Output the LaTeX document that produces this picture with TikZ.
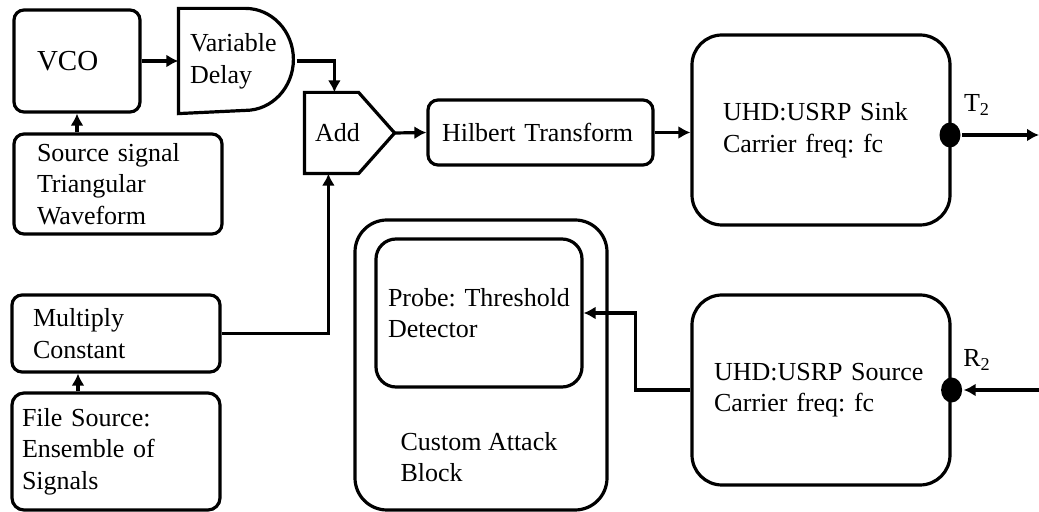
\documentclass[tikz,border=0pt]{standalone}
\usepackage{fontspec}
\setmainfont{Liberation Serif}
\usetikzlibrary{arrows.meta,calc,positioning,shapes.geometric}
\frenchspacing

\begin{document}
\begin{tikzpicture}[x=0.5pt,y=-0.5pt,>={Latex[length=6pt,width=6.5pt]},line width=1.6pt,
		font=\fontsize{13pt}{15.8pt}\selectfont,
		blk/.style={draw,rounded corners=#1,align=left,inner ysep=0pt},
		blk/.default=5pt,
		txt/.style={align=left,inner ysep=0pt},
		dot/.style={ellipse,fill,inner sep=0pt,minimum width=10.5pt,minimum height=12.5pt}]
			\useasboundingbox (0,0) rectangle (1039,512);
			% transmit chain
			\node[blk,minimum height=51pt,text width=40pt,inner xsep=11.5pt,font=\fontsize{14.5pt}{17pt}\selectfont] (vco) at (77,61) {\raisebox{-3pt}{VCO}};
			\node[txt,minimum height=51pt,text width=47.5pt,inner xsep=5pt] (dly) at (237.5,61) {Variable\\Delay};
			\draw (dly.north west) -- ++(33.5pt,0) arc[start angle=90,end angle=-90,x radius=24pt,y radius=25.5pt] -- (dly.south west) -- cycle;
			\node[blk,minimum height=50pt,text width=81pt,inner xsep=11.5pt] (sig) at (118,184) {Source signal\\Triangular\\Waveform};
			\node[txt,minimum height=39pt,text width=34.5pt,inner xsep=4.5pt] (add) at (349.5,133) {Add};
			\draw (add.north west) -- ([xshift=-18pt]add.north east) -- (add.east) -- ([xshift=-18pt]add.south east) -- (add.south west) -- cycle;
			\node[blk,minimum height=32.5pt,text width=98.5pt,inner xsep=7pt] (hil) at (540.5,132.5) {Hilbert Transform};
			\node[blk=15pt,minimum height=95pt,text width=98pt,inner xsep=15.5pt] (sink) at (821,130) {UHD:USRP Sink\\Carrier freq: fc};
			\node[dot] (tx) at (950,135) {};
			\node (t2) at (977,105) {T\textsubscript{2}};
			\coordinate (txend) at (1039,135);
			% receive chain
			\node[blk=15pt,minimum height=95pt,text width=107pt,inner xsep=11pt] (usrc) at (821,390) {UHD:USRP Source\\Carrier freq: fc};
			\node[dot] (rx) at (usrc.east) {};
			\node (r2) at (977,360) {R\textsubscript{2}};
			\coordinate (rxend) at (1039,390);
			\node[blk=16pt,minimum width=126pt,minimum height=145pt] (atk) at (481,365) {};
			\node[blk=10pt,minimum height=74pt,text width=91pt,inner xsep=6pt] (prb) at (479,313) {Probe: Threshold\\Detector};
			\node[txt,anchor=west,inner sep=0pt] (atklbl) at (399,457) {Custom Attack\\Block};
			% multiplier branch
			\node[blk,minimum height=38.5pt,text width=83pt,inner xsep=10.5pt] (mul) at (116,333.5) {Multiply\\Constant};
			\node[blk=6pt,minimum height=58.5pt,text width=94pt,inner xsep=5pt] (fil) at (116,451.5) {File Source:\\Ensemble of\\Signals};
			% connectors
			\draw[->] (vco) -- (dly);
			\draw[->] (vco.south |- sig.north) -- (vco.south);
			\draw[->] (dly.east) -| ([xshift=15pt]add.north west);
			\draw[->] (mul.east) -| ([xshift=12pt]add.south west);
			\draw[->] (add.east) -- (hil.west);
			\draw[->] (hil.east) -- (hil.east -| sink.west);
			\draw[->] (tx) -- (txend);
			\draw[->] (rxend) -- (rx);
			\draw[->] (usrc.west) -- ++(-27.5pt,0) |- (prb.east);
			\draw[->] ([xshift=-19pt]fil.north) -- ([xshift=-19pt]mul.south);
		\end{tikzpicture}
\end{document}
